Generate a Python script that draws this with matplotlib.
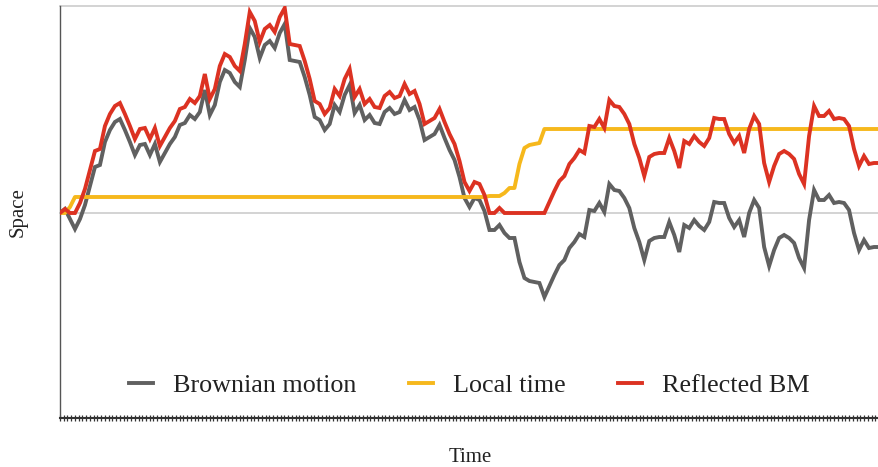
import numpy as np
import matplotlib
matplotlib.use("Agg")
import matplotlib.pyplot as plt
from matplotlib.ticker import FixedLocator

series_names = ["Brownian motion", "Local time", "Reflected BM"]

brownian = [
    0.00, 0.02, -0.03, -0.08, -0.03, 0.04, 0.135, 0.23, 0.24, 0.355,
    0.415, 0.455, 0.47, 0.415, 0.355, 0.29, 0.34, 0.345, 0.29, 0.345,
    0.255, 0.30, 0.345, 0.38, 0.44, 0.45, 0.49, 0.47, 0.505, 0.615,
    0.49, 0.54, 0.655, 0.715, 0.70, 0.655, 0.63, 0.765, 0.925, 0.88,
    0.775, 0.84, 0.86, 0.825, 0.90, 0.945, 0.765, 0.76, 0.755, 0.68,
    0.59, 0.48, 0.465, 0.415, 0.445, 0.54, 0.505, 0.59, 0.64, 0.50,
    0.54, 0.465, 0.49, 0.45, 0.445, 0.505, 0.525, 0.495, 0.505, 0.565,
    0.515, 0.53, 0.465, 0.365, 0.38, 0.395, 0.44, 0.375, 0.315, 0.265,
    0.18, 0.075, 0.03, 0.075, 0.065, 0.01, -0.085, -0.085, -0.06, -0.10,
    -0.125, -0.125, -0.245, -0.325, -0.34, -0.345, -0.35, -0.42, -0.365, -0.31,
    -0.26, -0.235, -0.175, -0.145, -0.105, -0.12, 0.015, 0.01, 0.05, 0.005,
    0.145, 0.115, 0.11, 0.075, 0.025, -0.075, -0.145, -0.235, -0.14, -0.125,
    -0.12, -0.12, -0.045, -0.11, -0.195, -0.06, -0.075, -0.035, -0.065, -0.085,
    -0.045, 0.055, 0.05, 0.05, -0.025, -0.07, -0.035, -0.12, 0.00, 0.065,
    0.025, -0.17, -0.265, -0.185, -0.125, -0.11, -0.125, -0.15, -0.225, -0.275,
    -0.035, 0.115, 0.065, 0.065, 0.09, 0.05, 0.055, 0.05, 0.015, -0.10,
    -0.185, -0.135, -0.175, -0.17, -0.17,
]

local_time = (
    [0.00, 0.00, 0.03]
    + [0.08] * 83
    + [0.085, 0.085, 0.085, 0.10, 0.125, 0.125, 0.245, 0.325, 0.34, 0.345, 0.35]
    + [0.42] * 68
)

bm = np.array(brownian)
lt = np.array(local_time)
reflected = bm + lt
time = np.arange(len(bm))

GRAY = "#606060"
YELLOW = "#f6b81c"
RED = "#dc3222"
TEXT = "#222222"

W, H = 879, 467
fig = plt.figure(figsize=(W / 100, H / 100), dpi=100)
ax = fig.add_axes([60 / W, (H - 418) / H, (879 - 60) / W, (418 - 6) / H])

ymin, ymax = -1.025, 1.035
ax.set_ylim(ymin, ymax)
ax.set_xlim(0, len(bm) - 1)

for yv in (0.0, ymax):
    ax.axhline(yv, color="#cccccc", lw=1.2, zorder=0, clip_on=False)

l1, = ax.plot(time, bm, color=GRAY, lw=2.8, solid_joinstyle="miter", zorder=2)
l2, = ax.plot(time, lt, color=YELLOW, lw=2.8, zorder=3)
l3, = ax.plot(time, reflected, color=RED, lw=2.8, solid_joinstyle="miter", zorder=4)

ax.set_yticks([])
ax.xaxis.set_major_locator(FixedLocator(np.linspace(0, len(bm) - 1, 220)))
ax.tick_params(axis="x", direction="inout", length=4, width=0.9, color="#333333",
               labelbottom=False)
for s in ("top", "right"):
    ax.spines[s].set_visible(False)
ax.spines["left"].set_color("#555555")
ax.spines["left"].set_linewidth(1.0)
ax.spines["bottom"].set_color("#333333")
ax.spines["bottom"].set_linewidth(1.5)

leg = ax.legend([l1, l2, l3], series_names, loc="center", ncol=3,
                bbox_to_anchor=(0.5, (418 - 385) / 412), frameon=False,
                prop={"family": "Liberation Serif", "size": 18.8},
                handlelength=0.92, handletextpad=0.77, columnspacing=2.0,
                borderaxespad=0)
for t in leg.get_texts():
    t.set_color(TEXT)

fig.text(18 / W, 1 - 212 / H, "Space", rotation=90, ha="center", va="center",
         family="Liberation Serif", fontsize=15, color=TEXT)
fig.text(470 / W, 1 - 458 / H, "Time", ha="center", va="center",
         family="Liberation Serif", fontsize=15, color=TEXT)

fig.savefig("out.png", dpi=100)
